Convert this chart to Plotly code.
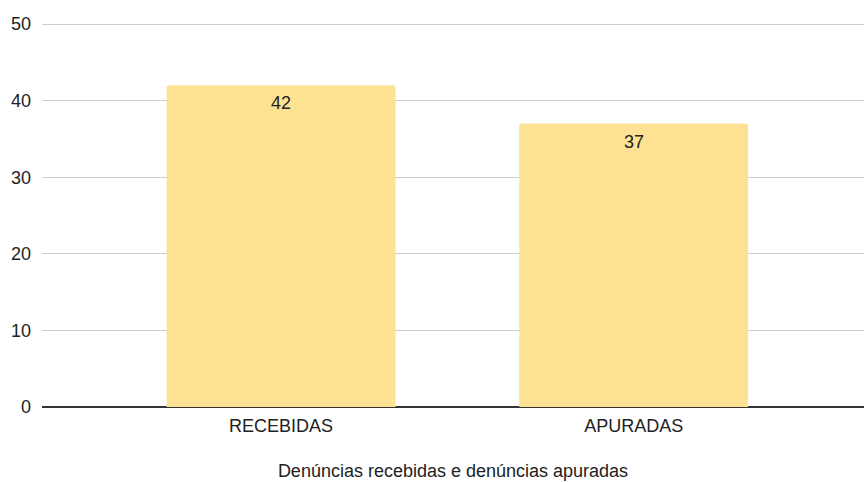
import plotly.graph_objects as go

categories = ["RECEBIDAS", "APURADAS"]
values = [42, 37]
y_ticks = [0, 10, 20, 30, 40, 50]
x_title = "Denúncias recebidas e denúncias apuradas"

FONT = "Arial, 'Liberation Sans', sans-serif"

fig = go.Figure(
    go.Bar(
        x=categories,
        y=values,
        width=0.649,
        marker=dict(color="#FDE293", line=dict(width=0), cornerradius=3),
        hoverinfo="skip",
    )
)

for c, v in zip(categories, values):
    fig.add_annotation(
        x=c,
        y=v,
        text=str(v),
        showarrow=False,
        yanchor="top",
        yshift=-6,
        font=dict(family=FONT, size=18, color="#222222"),
    )

fig.update_layout(
    width=864,
    height=482,
    margin=dict(l=42, r=0, t=16, b=75, autoexpand=False),
    paper_bgcolor="white",
    plot_bgcolor="white",
    font=dict(family=FONT, size=18, color="#222222"),
    showlegend=False,
    xaxis=dict(
        type="category",
        range=[-0.678, 1.653],
        showgrid=False,
        showline=False,
        zeroline=False,
        ticks="",
        ticklabelstandoff=6,
        tickfont=dict(size=18, color="#222222"),
        title=dict(text=x_title, font=dict(size=18, color="#222222"), standoff=29),
        automargin=False,
    ),
    yaxis=dict(
        range=[0, 51.044],
        tickvals=y_ticks,
        showgrid=True,
        gridcolor="#CCCCCC",
        gridwidth=1,
        zeroline=True,
        zerolinecolor="#333333",
        zerolinewidth=1.5,
        showline=False,
        ticks="",
        ticklabelstandoff=10,
        tickfont=dict(size=18, color="#222222"),
        automargin=False,
    ),
)

fig.write_html(
    "out.html",
    config={"displayModeBar": False},
    post_script="document.body.style.margin='0';document.body.style.padding='0';",
)
